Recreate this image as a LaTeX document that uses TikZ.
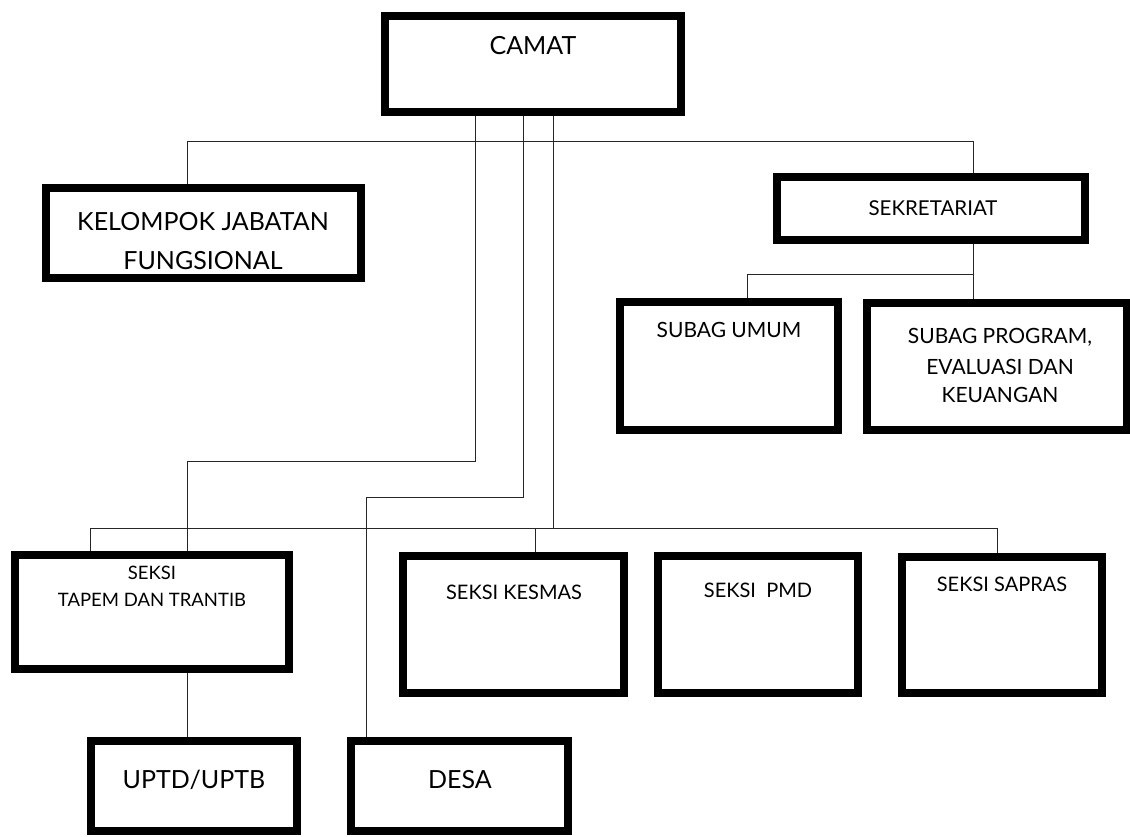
\documentclass[tikz,border=0pt]{standalone}
\usepackage{fontspec}
\setmainfont{Lato}
\newcommand\obox[5]{\node[orgbox, minimum width={#4-#2-8}, minimum height={#5-#3-8}] (#1) at ({(#2+#4)/2},{(#3+#5)/2}) {};}
\begin{document}
\begin{tikzpicture}[x=1pt,y=-1pt,
  orgbox/.style={draw=black, line width=8pt, fill=white, inner sep=0pt},
  link/.style={draw=black!85, line width=1pt},
  big/.style={font=\fontsize{25}{30}\selectfont, inner sep=0pt},
  small/.style={font=\fontsize{20}{24}\selectfont, inner sep=0pt},
  smaller/.style={font=\fontsize{18.5}{22}\selectfont, inner sep=0pt},
  smallish/.style={font=\fontsize{21}{25}\selectfont, inner sep=0pt}]
\useasboundingbox (0,0) rectangle (1130,836);
% boxes
\obox{camat}{381}{12}{685}{116}
\obox{kjf}{42}{184}{365}{282}
\obox{sek}{773}{173}{1089}{244}
\obox{sumum}{616}{298}{842}{434}
\obox{sprog}{863}{299}{1131}{434}
\obox{tapem}{11}{551}{293}{673}
\obox{kesmas}{399}{552}{628}{697}
\obox{pmd}{654}{552}{862}{697}
\obox{sapras}{898}{553}{1106}{697}
\obox{uptd}{87}{737}{301}{835}
\obox{desa}{347}{737}{572}{835}
% texts
\node[big] (tcamat) at (533,46) {CAMAT};
\node[big] (tkjf1) at (203,222) {KELOMPOK JABATAN};
\node[big] (tkjf2) at (203,261) {FUNGSIONAL};
\node[smallish, font=\fontsize{20.5}{25}\selectfont] (tsek) at (933,208) {SEKRETARIAT};
\node[smallish] (tsumum) at (729,330) {SUBAG UMUM};
\node[smallish] (tsprog1) at (1000,337) {SUBAG PROGRAM,};
\node[smallish] (tsprog2) at (1000,367) {EVALUASI DAN};
\node[smallish] (tsprog3) at (1000,395) {KEUANGAN};
\node[smaller] (ttapem1) at (152,573) {SEKSI};
\node[smaller] (ttapem2) at (152,600) {TAPEM DAN TRANTIB};
\node[small] (tkesmas) at (514,592) {SEKSI KESMAS};
\node[small] (tpmd) at (758,590) {SEKSI\ \ PMD};
\node[small] (tsapras) at (1002,584) {SEKSI SAPRAS};
\node[big] (tuptd) at (194,780) {UPTD/UPTB};
\node[big] (tdesa) at (460,780) {DESA};
% junctions
\coordinate (tL) at (187,141);
\coordinate (tR) at (973,141);
\coordinate (a1) at (475,461);
\coordinate (a2) at (187,461);
\coordinate (b1) at (523,497);
\coordinate (b2) at (366,497);
\coordinate (c1) at (553,528);
\coordinate (cL) at (90,528);
\coordinate (cR) at (997,528);
\coordinate (ck) at (535,528);
\coordinate (s1) at (973,274);
\coordinate (s2) at (747,274);
% connectors
\draw[link] (kjf.north -| tL) -- (tL) -- (tR) -- (sek.north -| tR);
\draw[link] (sek.south -| s1) -- (sprog.north -| s1);
\draw[link] (s1) -- (s2) -- (sumum.north -| s2);
\draw[link] (camat.south -| a1) -- (a1) -- (a2) -- (tapem.north -| a2);
\draw[link] (camat.south -| b1) -- (b1) -- (b2) -- (desa.north -| b2);
\draw[link] (camat.south -| c1) -- (c1);
\draw[link] (cL) -- (cR);
\draw[link] (cL) -- (tapem.north -| cL);
\draw[link] (ck) -- (kesmas.north -| ck);
\draw[link] (cR) -- (sapras.north -| cR);
\draw[link] (tapem.south -| a2) -- (uptd.north -| a2);
\end{tikzpicture}
\end{document}
